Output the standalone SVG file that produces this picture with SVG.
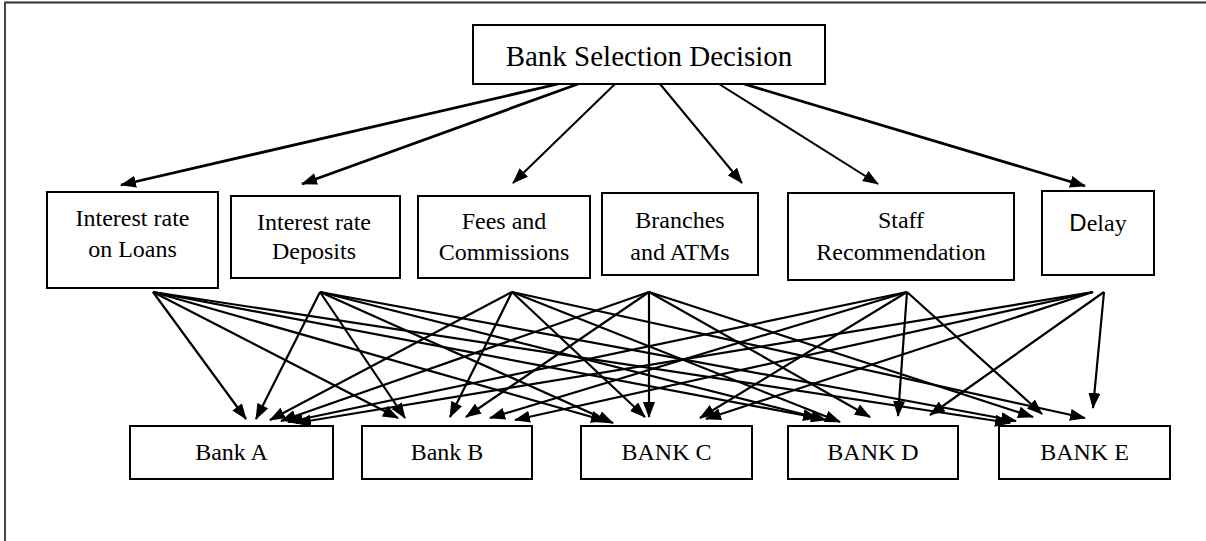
<svg xmlns="http://www.w3.org/2000/svg" width="1206" height="541" viewBox="0 0 1206 541">
<style>
.box{fill:#fff;stroke:#000;stroke-width:2}
.t{font-family:"Liberation Serif","Times New Roman",serif;fill:#000;text-anchor:middle}
.c{font-size:24px}
.b{font-size:24px}
.e{stroke:#000;stroke-width:2.2;fill:none;marker-end:url(#ah)}
.e1{stroke:#000;stroke-width:2;fill:none;marker-end:url(#ah)}
.e2{stroke:#000;stroke-width:2.8;fill:none;marker-end:url(#ah)}
</style>
<defs>
<marker id="ah" markerUnits="userSpaceOnUse" markerWidth="16" markerHeight="12" refX="15" refY="6" orient="auto"><path d="M0,0 L16,6 L0,12 z" fill="#000"/></marker>
</defs>
<rect width="1206" height="541" fill="#fff"/>
<path d="M5,541 L5,2.5 L1206,2.5" fill="none" stroke="#333" stroke-width="1.8"/>

<g id="connectors">
<line class="e2" x1="558" y1="84" x2="121" y2="185"/>
<line class="e2" x1="578" y1="84" x2="302" y2="184"/>
<line class="e1" x1="615" y1="84" x2="513" y2="183"/>
<line class="e1" x1="660" y1="84" x2="742" y2="183"/>
<line class="e1" x1="719" y1="84" x2="878" y2="184"/>
<line class="e2" x1="744" y1="84" x2="1085" y2="186"/>

<line class="e" x1="153" y1="292" x2="246" y2="419"/>
<line class="e" x1="153" y1="292" x2="398" y2="418"/>
<line class="e" x1="153" y1="292" x2="606" y2="421"/>
<line class="e" x1="153" y1="292" x2="818" y2="418"/>
<line class="e" x1="153" y1="292" x2="1010" y2="423"/>

<line class="e" x1="320" y1="292" x2="256" y2="419"/>
<line class="e" x1="320" y1="292" x2="405" y2="418"/>
<line class="e" x1="320" y1="292" x2="613" y2="423"/>
<line class="e" x1="320" y1="292" x2="826" y2="420"/>
<line class="e" x1="320" y1="292" x2="1016" y2="421"/>

<line class="e" x1="512" y1="292" x2="270" y2="420"/>
<line class="e" x1="512" y1="292" x2="450" y2="417"/>
<line class="e" x1="512" y1="292" x2="645" y2="417"/>
<line class="e" x1="512" y1="292" x2="840" y2="422"/>
<line class="e" x1="512" y1="292" x2="1085" y2="418"/>

<line class="e" x1="649" y1="292" x2="281" y2="421"/>
<line class="e" x1="649" y1="292" x2="466" y2="417"/>
<line class="e" x1="649" y1="292" x2="649" y2="417"/>
<line class="e" x1="649" y1="292" x2="870" y2="417"/>
<line class="e" x1="649" y1="292" x2="1033" y2="417"/>

<line class="e" x1="907" y1="292" x2="288" y2="422"/>
<line class="e" x1="907" y1="292" x2="490" y2="418"/>
<line class="e" x1="907" y1="292" x2="700" y2="418"/>
<line class="e" x1="907" y1="292" x2="898" y2="416"/>
<line class="e" x1="907" y1="292" x2="1042" y2="414"/>

<line class="e" x1="1093" y1="292" x2="296" y2="423"/>
<line class="e" x1="1093" y1="292" x2="515" y2="420"/>
<line class="e" x1="1093" y1="292" x2="706" y2="419"/>
<line class="e" x1="1104" y1="292" x2="930" y2="415"/>
<line class="e" x1="1104" y1="292" x2="1093" y2="408"/>
</g>

<g id="decision">
<rect class="box" x="473" y="25" width="352" height="59"/>
<text class="t" x="649" y="66" font-size="29">Bank Selection Decision</text>
</g>

<g id="loans">
<rect class="box" x="47" y="192" width="171" height="96"/>
<text class="t c" x="132.5" y="226">Interest rate</text>
<text class="t c" x="132.5" y="257">on Loans</text>
</g>
<g id="deposits">
<rect class="box" x="231" y="196" width="169" height="82"/>
<text class="t c" x="314" y="230">Interest rate</text>
<text class="t c" x="314" y="259">Deposits</text>
</g>
<g id="fees">
<rect class="box" x="418" y="196" width="172" height="82"/>
<text class="t c" x="504" y="229">Fees and</text>
<text class="t c" x="504" y="260">Commissions</text>
</g>
<g id="branches">
<rect class="box" x="602" y="193" width="156" height="82"/>
<text class="t c" x="680" y="228">Branches</text>
<text class="t c" x="680" y="260">and ATMs</text>
</g>
<g id="staff">
<rect class="box" x="788" y="193" width="226" height="87"/>
<text class="t c" x="901" y="228">Staff</text>
<text class="t c" x="901" y="260">Recommendation</text>
</g>
<g id="delay">
<rect class="box" x="1042" y="191" width="112" height="84"/>
<text class="t c" x="1098" y="231"><tspan font-family="'Liberation Sans',Arial,sans-serif">D</tspan>elay</text>
</g>

<g id="bankA">
<rect class="box" x="130" y="426" width="203" height="53"/>
<text class="t b" x="231.5" y="460">Bank A</text>
</g>
<g id="bankB">
<rect class="box" x="362" y="426" width="170" height="53"/>
<text class="t b" x="447" y="460">Bank B</text>
</g>
<g id="bankC">
<rect class="box" x="581" y="426" width="171" height="53"/>
<text class="t b" x="666.5" y="460">BANK C</text>
</g>
<g id="bankD">
<rect class="box" x="788" y="426" width="170" height="53"/>
<text class="t b" x="873" y="460">BANK D</text>
</g>
<g id="bankE">
<rect class="box" x="999" y="426" width="171" height="53"/>
<text class="t b" x="1084.5" y="460">BANK E</text>
</g>
</svg>
